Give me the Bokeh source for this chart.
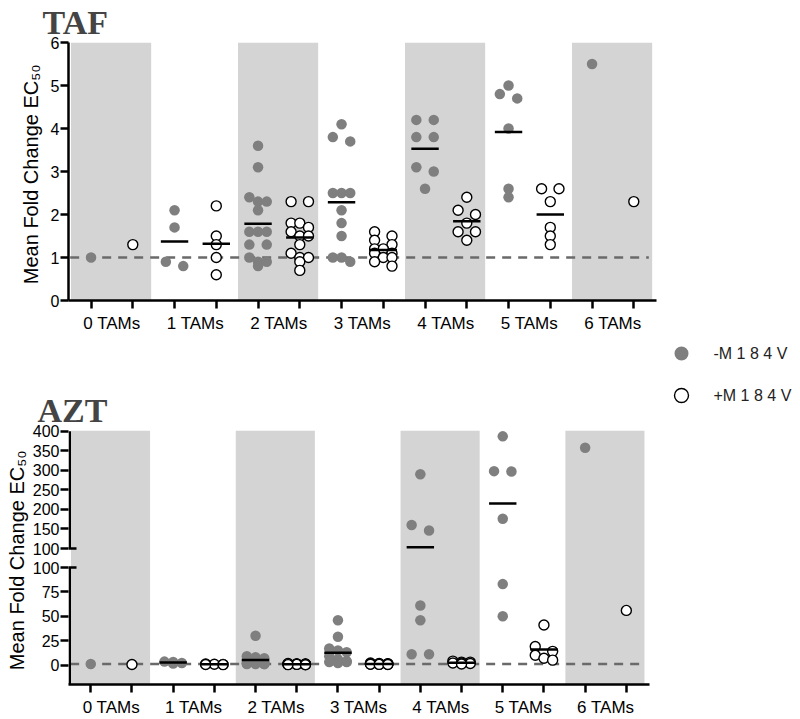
import numpy as np
from bokeh.plotting import figure
from bokeh.models import FixedTicker, Range1d
from bokeh.layouts import column, row
from bokeh.embed import file_html
from bokeh.resources import INLINE
from bokeh.core.properties import value

# ---------------- data ----------------
groups = ["0 TAMs", "1 TAMs", "2 TAMs", "3 TAMs", "4 TAMs", "5 TAMs", "6 TAMs"]
legend_labels = ["-M 1 8 4 V", "+M 1 8 4 V"]
y_label = "Mean Fold  Change EC\u2085\u2080"

taf_minus = [
    [1.0],
    [2.1, 1.7, 0.9, 0.8],
    [3.6, 3.1, 2.4, 2.3, 2.3, 2.1, 1.6, 1.6, 1.6, 1.3, 1.3, 1.0, 0.9, 0.9, 0.8],
    [4.1, 3.8, 3.7, 2.5, 2.5, 2.5, 2.1, 1.8, 1.5, 1.0, 1.0, 0.9],
    [4.2, 4.2, 3.8, 3.8, 3.1, 3.0, 2.6],
    [5.0, 4.8, 4.7, 4.0, 2.6, 2.4],
    [5.5],
]
taf_plus = [
    [1.3],
    [2.2, 1.5, 1.3, 1.0, 0.6],
    [2.3, 2.3, 1.8, 1.8, 1.7, 1.6, 1.5, 1.5, 1.3, 1.1, 1.0, 1.0, 0.9, 0.7],
    [1.6, 1.5, 1.4, 1.3, 1.2, 1.2, 1.1, 1.1, 1.0, 1.0, 0.9, 0.8],
    [2.4, 2.1, 2.0, 1.8, 1.6, 1.6, 1.4],
    [2.6, 2.6, 2.3, 1.7, 1.5, 1.3],
    [2.3],
]
azt_minus = [
    [1.0],
    [3.5, 3.0, 2.0, 1.5],
    [30, 9, 8, 7, 5, 4, 3, 2, 2, 1.5, 1.5, 1, 1, 1, 1],
    [46, 29, 17, 15, 13, 9, 6, 4, 3, 3, 3, 2],
    [290, 160, 146, 61, 46, 11, 11],
    [387, 298, 297, 176, 83, 50],
    [358],
]
azt_plus = [
    [0.5],
    [1.0, 0.8, 0.6, 0.5, 0.4],
    [1.5, 1.2, 1.1, 1.0, 1.0, 0.9, 0.8, 0.8, 0.7, 0.6, 0.6, 0.5, 0.4, 0.3],
    [2.0, 1.6, 1.4, 1.2, 1.1, 1.0, 1.0, 0.9, 0.8, 0.7, 0.6, 0.5],
    [4.0, 3.0, 3.0, 2.0, 2.0, 1.5, 1.0],
    [41, 19, 14, 10, 7, 5],
    [56],
]

taf_ticks = [0, 1, 2, 3, 4, 5, 6]
azt_low_ticks = [0, 25, 50, 75, 100]
azt_high_ticks = [100, 150, 200, 250, 300, 350, 400]
reference_level = 1.0
azt_break = 100.0

# ---------------- layout / style ----------------
GRAY = "#7f7f7f"
BAND = "#d4d4d4"
DASH = "#6a6a6a"
FONT = "Liberation Sans"

PAGE_W = 796
LEFT = 68
TAF_FW, TAF_FH = 588, 259
TAF_TOP, TAF_BOT = 42, 34
AZT_FW, AZT_FH = 581, 255
AZT_TOP, AZT_BOT = 95, 34
X_START = -0.02
TAF_X_END = X_START + TAF_FW / 83.5
AZT_X_END = X_START + AZT_FW / 82.4
TAF_Y0, TAF_Y1 = 0.0, 6.0
AZT_Y0, AZT_Y1 = -20.0, 240.6
GAP_UNITS = 19.5
UPPER_RATIO = 0.401


def azt_upper(v):
    return azt_break + GAP_UNITS + (np.asarray(v, dtype=float) - azt_break) * UPPER_RATIO


def azt_disp(v):
    v = np.asarray(v, dtype=float)
    return np.where(v <= azt_break, v, azt_upper(v))


def swarm_x(disp_vals, center, ppu_y, ppu_x, step_px=8.7, row_px=6.0):
    disp_vals = np.asarray(disp_vals, dtype=float)
    order = np.argsort(-disp_vals, kind="stable")
    xs = np.full(len(disp_vals), float(center))
    rows, cur, y0 = [], [], None
    for idx in order:
        ypx = disp_vals[idx] * ppu_y
        if cur and abs(y0 - ypx) < row_px and len(cur) < 3:
            cur.append(idx)
        else:
            if cur:
                rows.append(cur)
            cur, y0 = [idx], ypx
    if cur:
        rows.append(cur)
    pattern = {1: [0], 2: [-1, 1], 3: [-1, 0, 1]}
    for r in rows:
        for idx, o in zip(r, pattern[len(r)]):
            xs[idx] = center + o * step_px / ppu_x
    return xs


def style(p, title_offset):
    p.frame_align = False
    p.xgrid.visible = False
    p.ygrid.visible = False
    p.outline_line_color = None
    p.background_fill_color = "white"
    p.border_fill_color = "white"
    p.title.text_font = "Liberation Serif"
    p.title.text_font_style = "bold"
    p.title.text_font_size = "34px"
    p.title.align = "left"
    p.title.offset = title_offset
    p.title.standoff = 3
    for ax in p.axis:
        ax.axis_line_width = 2.5
        ax.axis_line_color = "black"
        ax.major_tick_line_width = 2.5
        ax.major_tick_line_color = "black"
        ax.major_tick_out = 8
        ax.major_tick_in = 0
        ax.minor_tick_line_width = 2.5
        ax.minor_tick_line_color = "black"
        ax.minor_tick_out = 8
        ax.minor_tick_in = 0
        ax.major_label_text_font = FONT
        ax.major_label_text_color = "black"
        ax.axis_label_text_font = FONT
        ax.axis_label_text_font_style = "normal"
        ax.axis_label_text_font_size = "20px"
        ax.axis_label_text_color = "black"
    p.xaxis.ticker = FixedTicker(ticks=[i + 0.5 for i in range(len(groups))],
                                 minor_ticks=[i + f for i in range(len(groups)) for f in (0.25, 0.75)])
    p.xaxis.major_label_overrides = {i + 0.5: g for i, g in enumerate(groups)}
    p.xaxis.major_tick_out = 0
    p.xaxis.major_label_standoff = 5
    p.xaxis.major_label_text_font_size = "17px"
    p.yaxis.major_label_standoff = 1
    p.yaxis.major_label_text_font_size = "16px"
    p.yaxis.axis_label = y_label
    p.yaxis.axis_label_standoff = 6


def draw_panel(p, minus, plus, to_disp, y0, y1, ppu_y, ppu_x):
    n = len(groups)
    shaded = [i for i in range(n) if i % 2 == 0]
    p.quad(left=[i + 0.01 for i in shaded], right=[i + 0.97 for i in shaded],
           bottom=y0, top=y1, fill_color=BAND, line_color=None)
    ref = float(to_disp(reference_level))
    p.line(x=[0.0, n - 0.07], y=[ref, ref], line_color=DASH, line_width=2.5, line_dash="9 7")
    for series, off, filled in ((minus, 0.25, True), (plus, 0.75, False)):
        xs_all, ys_all, mx0, mx1, my = [], [], [], [], []
        for i, vals in enumerate(series):
            d = to_disp(vals)
            xs_all += list(swarm_x(d, i + off, ppu_y, ppu_x))
            ys_all += list(d)
            if len(vals) > 1:
                m = float(to_disp(np.mean(vals)))
                mx0.append(i + off - 13.7 / ppu_x)
                mx1.append(i + off + 13.7 / ppu_x)
                my.append(m)
        if filled:
            p.scatter(xs_all, ys_all, size=10.5, fill_color=GRAY, line_color=None)
        else:
            p.scatter(xs_all, ys_all, size=10, fill_color="white", line_color="black", line_width=1.4)
        p.segment(x0=mx0, x1=mx1, y0=my, y1=my, line_color="black", line_width=2.5)


# ---------------- TAF ----------------
TAF_H = TAF_TOP + TAF_FH + TAF_BOT
taf = figure(title="TAF", width=PAGE_W, height=TAF_H,
             min_border_left=LEFT, min_border_right=PAGE_W - LEFT - TAF_FW,
             min_border_top=TAF_TOP, min_border_bottom=TAF_BOT,
             x_range=Range1d(X_START, TAF_X_END), y_range=Range1d(TAF_Y0, TAF_Y1),
             output_backend="svg", toolbar_location=None)
style(taf, -26)
taf.yaxis.ticker = FixedTicker(ticks=taf_ticks)
draw_panel(taf, taf_minus, taf_plus, lambda v: np.asarray(v, dtype=float), TAF_Y0, TAF_Y1,
           TAF_FH / (TAF_Y1 - TAF_Y0), TAF_FW / (TAF_X_END - X_START))

# ---------------- AZT ----------------
AZT_W = LEFT + AZT_FW + 6
azt = figure(title="AZT", width=AZT_W, height=AZT_TOP + AZT_FH + AZT_BOT,
             min_border_left=LEFT, min_border_right=6,
             min_border_top=AZT_TOP, min_border_bottom=AZT_BOT,
             x_range=Range1d(X_START, AZT_X_END), y_range=Range1d(AZT_Y0, AZT_Y1),
             output_backend="svg", toolbar_location=None)
style(azt, -31)
azt.yaxis.axis_label_standoff = 2
ppu_y = AZT_FH / (AZT_Y1 - AZT_Y0)
ppu_x = AZT_FW / (AZT_X_END - X_START)
low_d = [round(float(t), 3) for t in azt_low_ticks]
high_d = [round(float(azt_upper(t)), 3) for t in azt_high_ticks]
azt.yaxis.ticker = FixedTicker(ticks=low_d + high_d)
overrides = {d: str(t) for d, t in zip(low_d, azt_low_ticks)}
overrides.update({d: str(t) for d, t in zip(high_d, azt_high_ticks)})
azt.yaxis.major_label_overrides = overrides
azt.yaxis.axis_line_alpha = 0
draw_panel(azt, azt_minus, azt_plus, azt_disp, AZT_Y0, AZT_Y1, ppu_y, ppu_x)
# broken y-axis line
xa = X_START + 1.25 / ppu_x
azt.segment(x0=[xa, xa], x1=[xa, xa], y0=[AZT_Y0, high_d[0]], y1=[low_d[-1], high_d[-1]],
            line_color="black", line_width=2.5)
azt.segment(x0=[X_START, X_START], x1=[X_START + 8 / ppu_x] * 2, y0=[low_d[-1], high_d[0]],
            y1=[low_d[-1], high_d[0]], line_color="black", line_width=2.5)

# ---------------- legend ----------------
LEG_W, LEG_H = PAGE_W - AZT_W, 90
leg = figure(title=None, width=LEG_W, height=LEG_H, x_range=Range1d(0, LEG_W), y_range=Range1d(0, LEG_H),
             min_border=0, x_axis_location=None, y_axis_location=None,
             output_backend="svg", toolbar_location=None)
leg.frame_align = False
leg.xgrid.visible = False
leg.ygrid.visible = False
leg.outline_line_color = None
leg_y = [LEG_H - (353 - TAF_H), LEG_H - (395 - TAF_H)]
mx = 681 - AZT_W
leg.scatter([mx], [leg_y[0]], size=14, fill_color=GRAY, line_color=None)
leg.scatter([mx], [leg_y[1]], size=14, fill_color="white", line_color="black", line_width=1.4)
leg.text(x=[mx + 32] * 2, y=leg_y, text=legend_labels, text_font=value(FONT),
         text_font_size="16px", text_baseline="middle", text_color="#222222")

layout = column(taf, row(azt, leg))
open("out.html", "w").write(file_html(layout, INLINE))
